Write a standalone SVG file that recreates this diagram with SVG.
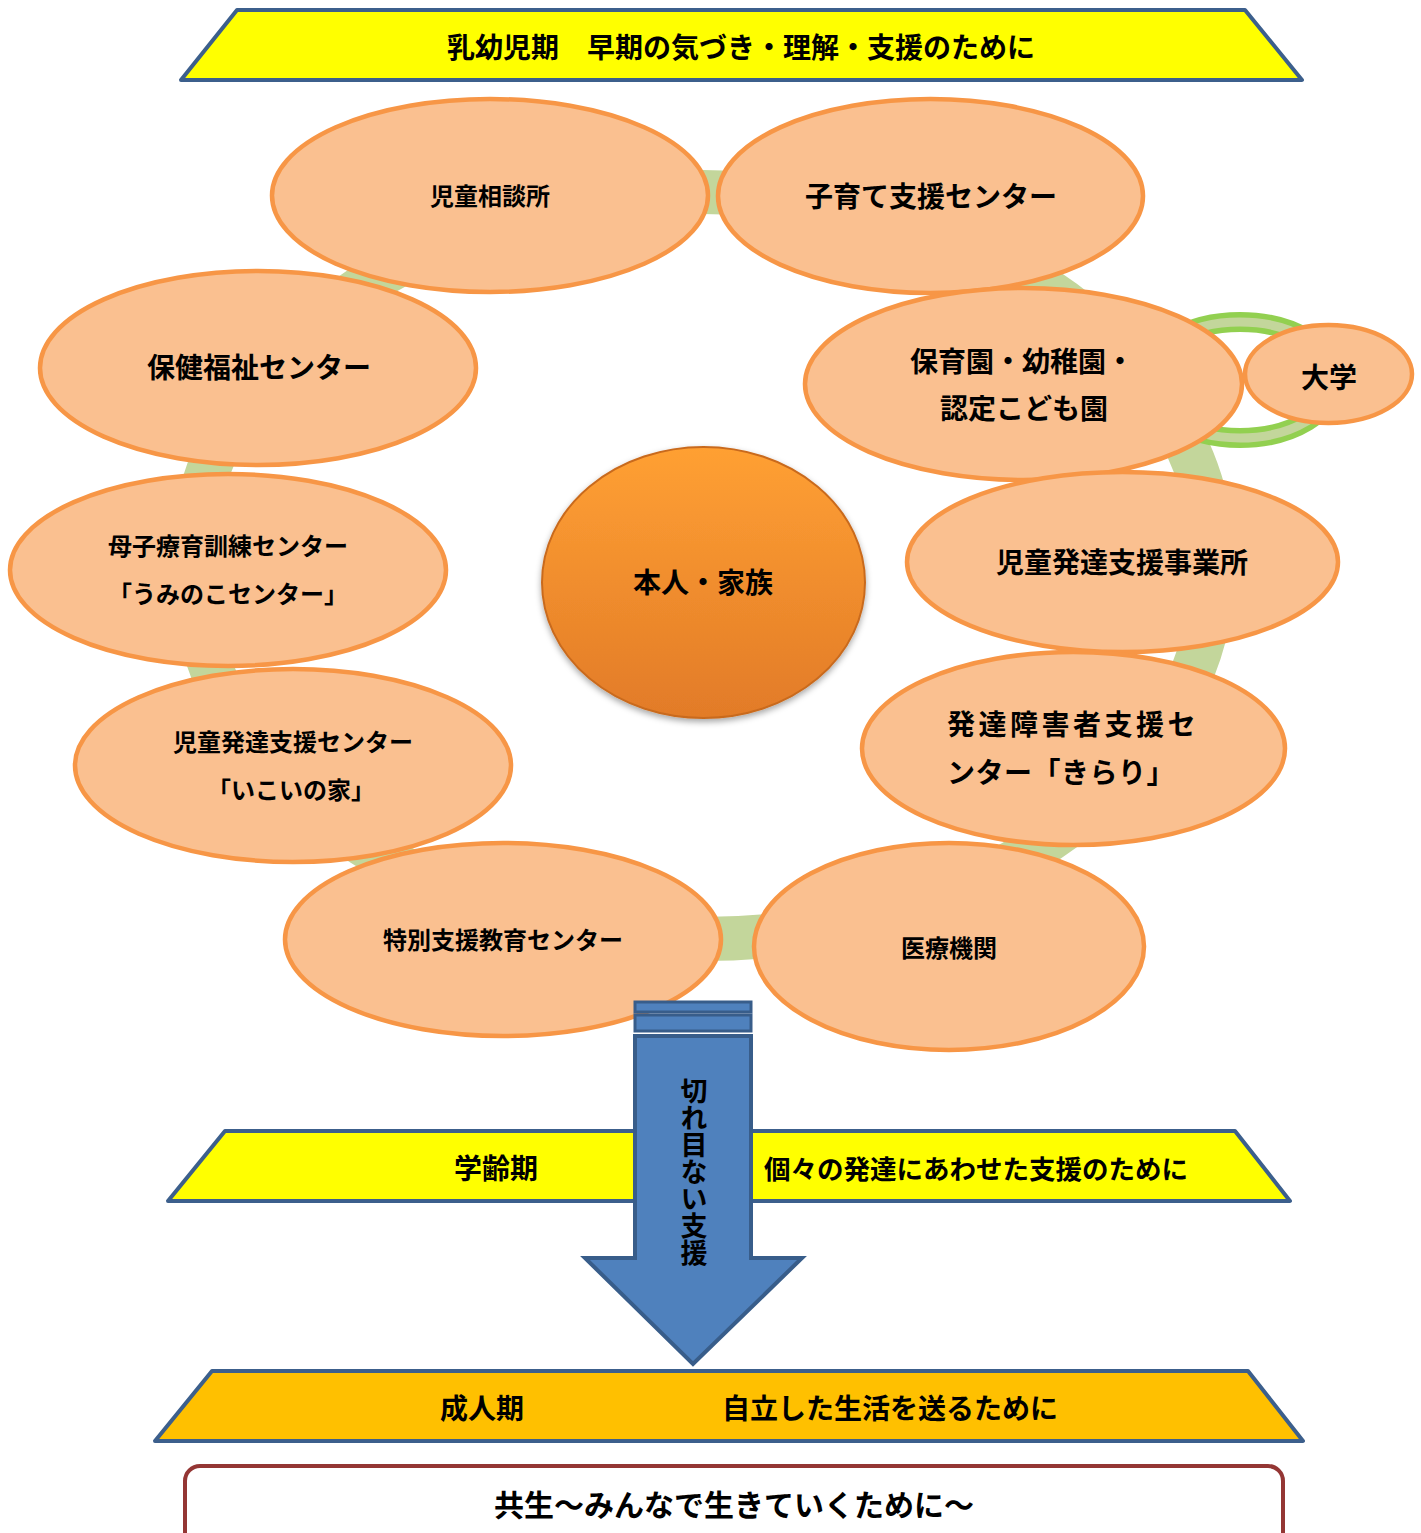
<svg xmlns="http://www.w3.org/2000/svg" width="1421" height="1533" viewBox="0 0 1421 1533">
<style>
text{font-family:"Noto Sans CJK JP","Noto Sans CJK SC",sans-serif;font-weight:bold;fill:#000;text-anchor:middle;dominant-baseline:central}
.node{fill:#fac090;stroke:#f79646;stroke-width:4.5}
.big{font-size:28px}
.sm{font-size:24px}
.banner{stroke:#3c5f8c;stroke-width:4;stroke-linejoin:round}
</style>
<defs>
<linearGradient id="core" x1="0" y1="0" x2="0" y2="1">
<stop offset="0" stop-color="#ffa033"/>
<stop offset="1" stop-color="#e27b28"/>
</linearGradient>
<filter id="sh" x="-10%" y="-10%" width="120%" height="125%">
<feDropShadow dx="0" dy="3" stdDeviation="3" flood-color="#000" flood-opacity="0.35"/>
</filter>
</defs>

<g id="banner-top">
<polygon class="banner" points="237,10 1245,10 1302,80 181,80" fill="#ffff00"/>
<text class="big" x="741" y="46">乳幼児期　早期の気づき・理解・支援のために</text>
</g>

<g id="connectors">
<ellipse cx="702.5" cy="565.5" rx="511" ry="373.5" fill="none" stroke="#c3d69b" stroke-width="44"/>
<ellipse cx="1240" cy="380" rx="95" ry="58" fill="none" stroke="#92d050" stroke-width="20"/>
<ellipse cx="1240" cy="380" rx="95" ry="58" fill="none" stroke="#c3d69b" stroke-width="9"/>
</g>

<g id="n-jido-soudan"><ellipse class="node" cx="490" cy="195.5" rx="218" ry="96.5"/><text class="sm" x="490" y="194">児童相談所</text></g>
<g id="n-kosodate"><ellipse class="node" cx="930.5" cy="196" rx="212.5" ry="97"/><text class="big" x="931" y="195">子育て支援センター</text></g>
<g id="n-hoken"><ellipse class="node" cx="258" cy="368" rx="218" ry="97"/><text class="big" x="259" y="366">保健福祉センター</text></g>
<g id="n-hoikuen"><ellipse class="node" cx="1023.5" cy="384" rx="218.5" ry="96"/><text class="big" x="1022" y="360">保育園・幼稚園・</text><text class="big" x="1024" y="407">認定こども園</text></g>
<g id="n-daigaku"><ellipse class="node" cx="1328.5" cy="374" rx="83.5" ry="49"/><text class="big" x="1329" y="376">大学</text></g>
<g id="n-umino"><ellipse class="node" cx="228" cy="570" rx="218" ry="96"/><text class="sm" x="228" y="544">母子療育訓練センター</text><text class="sm" x="228" y="592">「うみのこセンター」</text></g>
<g id="n-jigyousho"><ellipse class="node" cx="1122.5" cy="562" rx="215.5" ry="90"/><text class="big" x="1122" y="561">児童発達支援事業所</text></g>
<g id="n-ikoi"><ellipse class="node" cx="293" cy="765.5" rx="218" ry="96.5"/><text class="sm" x="293" y="740">児童発達支援センター</text><text class="sm" x="291" y="788">「いこいの家」</text></g>
<g id="n-kirari"><ellipse class="node" cx="1073.5" cy="748.5" rx="211.5" ry="96.5"/><text class="big" x="947" y="723" style="text-anchor:start;letter-spacing:3.5px">発達障害者支援セ</text><text class="big" x="947" y="771" style="text-anchor:start;letter-spacing:0.5px">ンター「きらり」</text></g>
<g id="n-tokubetsu"><ellipse class="node" cx="503" cy="939.5" rx="218" ry="96.5"/><text class="sm" x="503" y="938">特別支援教育センター</text></g>
<g id="n-iryou"><ellipse class="node" cx="949" cy="946.5" rx="195" ry="103.5"/><text class="sm" x="949" y="946">医療機関</text></g>

<g id="n-honnin">
<ellipse cx="703.5" cy="582.5" rx="161.5" ry="135.5" fill="url(#core)" stroke="#c96a1e" stroke-width="2" filter="url(#sh)"/>
<text class="big" x="703" y="581">本人・家族</text>
</g>

<g id="banner-school">
<polygon class="banner" points="225,1131 1235,1131 1290,1201 168,1201" fill="#ffff00"/>
<text class="big" x="496" y="1167">学齢期</text>
<text x="976" y="1167" style="font-size:26.5px">個々の発達にあわせた支援のために</text>
</g>

<g id="arrow">
<rect x="635" y="1002" width="116" height="10" fill="#4f81bd" stroke="#385d8a" stroke-width="3"/>
<rect x="635" y="1015" width="116" height="16" fill="#4f81bd" stroke="#385d8a" stroke-width="3"/>
<path d="M635,1036 L751,1036 L751,1258 L802,1258 L693,1364 L585,1258 L635,1258 Z" fill="#4f81bd" stroke="#385d8a" stroke-width="4" stroke-linejoin="miter"/>
<text class="big" x="694" y="1077" style="writing-mode:vertical-rl;text-anchor:start;dominant-baseline:auto;font-size:27px">切れ目ない支援</text>
</g>

<g id="banner-adult">
<polygon class="banner" points="212,1371 1248,1371 1303,1441 155,1441" fill="#ffc000"/>
<text class="big" x="482" y="1407">成人期</text>
<text class="big" x="890" y="1407">自立した生活を送るために</text>
</g>

<g id="kyousei">
<rect x="185" y="1466" width="1098" height="90" rx="15" fill="#fff" stroke="#943634" stroke-width="4"/>
<text x="734" y="1503" style="font-size:30px">共生～みんなで生きていくために～</text>
</g>
</svg>
